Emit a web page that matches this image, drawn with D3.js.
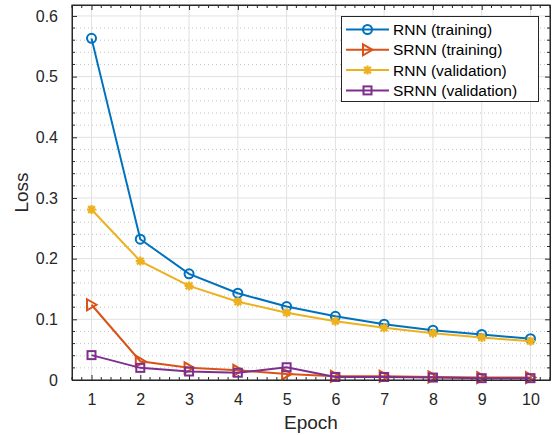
<!DOCTYPE html>
<html><head><meta charset="utf-8">
<script src="https://cdn.jsdelivr.net/npm/d3@7"></script>
<style>body{margin:0;background:#fff}svg{display:block;font-family:"Liberation Sans",Arial,Helvetica,sans-serif}</style>
</head><body><svg id="c" width="559" height="435"></svg>
<script>
const epochs = [1,2,3,4,5,6,7,8,9,10];
const rnnTrain = [0.563,0.232,0.175,0.143,0.121,0.105,0.092,0.082,0.075,0.068];
const srnnTrain = [0.124,0.031,0.020,0.016,0.010,0.006,0.006,0.005,0.004,0.004];
const rnnVal = [0.281,0.196,0.155,0.129,0.111,0.097,0.086,0.077,0.070,0.064];
const srnnVal = [0.041,0.020,0.014,0.012,0.021,0.005,0.005,0.004,0.003,0.003];
const seriesNames = ["RNN (training)","SRNN (training)","RNN (validation)","SRNN (validation)"];
const seriesColors = ["#0072BD","#D95319","#EDB120","#7E2F8E"];
const seriesMarkers = ["circle","triangle","star","square"];
const yTicks = [0,0.1,0.2,0.3,0.4,0.5,0.6];
const xLabel = "Epoch", yLabel = "Loss";

const series = [rnnTrain, srnnTrain, rnnVal, srnnVal].map((v,i)=>({name:seriesNames[i],color:seriesColors[i],marker:seriesMarkers[i],values:v}));

const L=72,R=550,T=5,B=380;
const svg=d3.select("#c");
const x=d3.scaleLinear().domain([0.6,10.4]).range([L,R]);
const y=d3.scaleLinear().domain([0,0.618]).range([B,T]);

// minor grid
const yMinor=d3.range(0,0.619,0.02).filter(v=>Math.abs(v*10-Math.round(v*10))>1e-6);
svg.append("g").selectAll("line").data(yMinor).join("line")
 .attr("x1",L).attr("x2",R).attr("y1",d=>y(d)).attr("y2",d=>y(d))
 .attr("stroke","#c4c4c4").attr("stroke-width",1).attr("stroke-dasharray","1,3");
// major grid
svg.append("g").selectAll("line").data(yTicks).join("line")
 .attr("x1",L).attr("x2",R).attr("y1",d=>y(d)).attr("y2",d=>y(d))
 .attr("stroke","#e1e1e1").attr("stroke-width",1);
svg.append("g").selectAll("line").data(epochs).join("line")
 .attr("y1",T).attr("y2",B).attr("x1",d=>x(d)).attr("x2",d=>x(d))
 .attr("stroke","#e1e1e1").attr("stroke-width",1);

// axes with inside ticks
const axCol="#262626";
const xMinor=d3.range(0.6,10.41,0.2).filter(v=>Math.abs(v-Math.round(v))>1e-6);
const gb=svg.append("g").attr("transform",`translate(0,${B})`)
 .call(d3.axisBottom(x).tickValues(epochs).tickSizeInner(-5).tickSizeOuter(0).tickPadding(14).tickFormat(d3.format("d")));
const gt=svg.append("g").attr("transform",`translate(0,${T})`)
 .call(d3.axisTop(x).tickValues(epochs).tickSizeInner(-5).tickSizeOuter(0).tickFormat(""));
const gl=svg.append("g").attr("transform",`translate(${L},0)`)
 .call(d3.axisLeft(y).tickValues(yTicks).tickSizeInner(-5).tickSizeOuter(0).tickPadding(14).tickFormat(d=>d===0?"0":d3.format(".1f")(d)));
const gr=svg.append("g").attr("transform",`translate(${R},0)`)
 .call(d3.axisRight(y).tickValues(yTicks).tickSizeInner(-5).tickSizeOuter(0).tickFormat(""));
[gb,gt,gl,gr].forEach(g=>{
 g.selectAll("path").attr("stroke",axCol);
 g.selectAll("line").attr("stroke",axCol);
 g.selectAll("text").attr("fill",axCol).style("font-size","16px").style("font-family",'"Liberation Sans",Arial,sans-serif');
});
// minor ticks
const mt=svg.append("g").attr("stroke",axCol).attr("stroke-width",1);
xMinor.forEach(v=>{mt.append("line").attr("x1",x(v)).attr("x2",x(v)).attr("y1",B).attr("y2",B-3);
 mt.append("line").attr("x1",x(v)).attr("x2",x(v)).attr("y1",T).attr("y2",T+3);});
yMinor.forEach(v=>{mt.append("line").attr("y1",y(v)).attr("y2",y(v)).attr("x1",L).attr("x2",L+3);
 mt.append("line").attr("y1",y(v)).attr("y2",y(v)).attr("x1",R).attr("x2",R-3);});

// labels
svg.append("text").attr("x",(L+R)/2).attr("y",429).attr("text-anchor","middle").attr("fill",axCol)
 .style("font-size","19px").text(xLabel);
svg.append("text").attr("transform",`translate(28,${(T+B)/2}) rotate(-90)`).attr("text-anchor","middle").attr("fill",axCol)
 .style("font-size","19px").text(yLabel);

function drawMarker(g,type,cx,cy,color){
 if(type==="circle") g.append("circle").attr("cx",cx).attr("cy",cy).attr("r",4.5).attr("fill","none").attr("stroke",color).attr("stroke-width",2);
 else if(type==="square") g.append("rect").attr("x",cx-4).attr("y",cy-4).attr("width",8).attr("height",8).attr("fill","none").attr("stroke",color).attr("stroke-width",2);
 else if(type==="triangle") g.append("path").attr("d",`M${cx-4.5},${cy-5.5}L${cx+5},${cy}L${cx-4.5},${cy+5.5}Z`).attr("fill","none").attr("stroke",color).attr("stroke-width",2);
 else if(type==="star"){
  const s=4.5;
  g.append("path").attr("d",`M${cx-s},${cy}L${cx+s},${cy}M${cx},${cy-s}L${cx},${cy+s}M${cx-s*0.75},${cy-s*0.75}L${cx+s*0.75},${cy+s*0.75}M${cx-s*0.75},${cy+s*0.75}L${cx+s*0.75},${cy-s*0.75}`)
   .attr("stroke",color).attr("stroke-width",2.2).attr("fill","none");
 }
}

const line=d3.line().x((d,i)=>x(epochs[i])).y(d=>y(d));
series.forEach(s=>{
 const g=svg.append("g");
 g.append("path").datum(s.values).attr("d",line).attr("fill","none").attr("stroke",s.color).attr("stroke-width",2);
 s.values.forEach((v,i)=>drawMarker(g,s.marker,x(epochs[i]),y(v),s.color));
});

// box edges on top
svg.append("rect").attr("x",L).attr("y",T).attr("width",R-L).attr("height",B-T).attr("fill","none").attr("stroke",axCol).attr("stroke-width",1);

// legend
const lg=svg.append("g");
lg.append("rect").attr("x",341.5).attr("y",16.5).attr("width",197).attr("height",85).attr("fill","#fff").attr("stroke","#262626").attr("stroke-width",1);
series.forEach((s,i)=>{
 const cy=29.5+i*20.3;
 lg.append("line").attr("x1",346).attr("x2",389).attr("y1",cy).attr("y2",cy).attr("stroke",s.color).attr("stroke-width",2);
 drawMarker(lg,s.marker,367.5,cy,s.color);
 lg.append("text").attr("x",393).attr("y",cy+5.5).attr("fill","#000").style("font-size","15.5px").text(s.name);
});
</script></body></html>
